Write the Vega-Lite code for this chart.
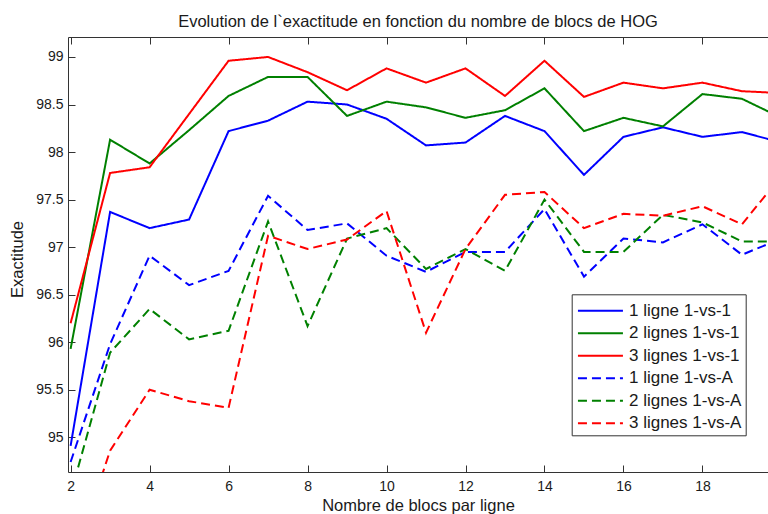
{
  "$schema": "https://vega.github.io/schema/vega-lite/v6.json",
  "width": 700,
  "height": 435,
  "autosize": {"type": "none"},
  "padding": {"left": 68, "top": 37, "right": 0, "bottom": 42},
  "background": "white",
  "title": {"text": "Evolution de l`exactitude en fonction du nombre de blocs de HOG", "font": "Liberation Sans", "fontSize": 16.5, "fontWeight": "normal", "color": "#1a1a1a", "offset": 6, "anchor": "middle"},
  "config": {
    "view": {"stroke": "#333333", "strokeWidth": 1},
    "axis": {"grid": false, "domain": false, "labelFont": "Liberation Sans", "labelFontSize": 14, "labelColor": "#1a1a1a", "titleFont": "Liberation Sans", "titleFontSize": 16.5, "titleFontWeight": "normal", "titleColor": "#1a1a1a", "tickColor": "#333333", "tickSize": -7}
  },
  "data": {"values": [
    {"series": "1 ligne 1-vs-1", "x": 2, "y": 94.91}, {"series": "1 ligne 1-vs-1", "x": 3, "y": 97.37}, {"series": "1 ligne 1-vs-1", "x": 4, "y": 97.20}, {"series": "1 ligne 1-vs-1", "x": 5, "y": 97.29}, {"series": "1 ligne 1-vs-1", "x": 6, "y": 98.22}, {"series": "1 ligne 1-vs-1", "x": 7, "y": 98.33}, {"series": "1 ligne 1-vs-1", "x": 8, "y": 98.53}, {"series": "1 ligne 1-vs-1", "x": 9, "y": 98.50}, {"series": "1 ligne 1-vs-1", "x": 10, "y": 98.35}, {"series": "1 ligne 1-vs-1", "x": 11, "y": 98.07}, {"series": "1 ligne 1-vs-1", "x": 12, "y": 98.10}, {"series": "1 ligne 1-vs-1", "x": 13, "y": 98.38}, {"series": "1 ligne 1-vs-1", "x": 14, "y": 98.22}, {"series": "1 ligne 1-vs-1", "x": 15, "y": 97.76}, {"series": "1 ligne 1-vs-1", "x": 16, "y": 98.16}, {"series": "1 ligne 1-vs-1", "x": 17, "y": 98.26}, {"series": "1 ligne 1-vs-1", "x": 18, "y": 98.16}, {"series": "1 ligne 1-vs-1", "x": 19, "y": 98.21}, {"series": "1 ligne 1-vs-1", "x": 20, "y": 98.10},
    {"series": "2 lignes 1-vs-1", "x": 2, "y": 95.93}, {"series": "2 lignes 1-vs-1", "x": 3, "y": 98.13}, {"series": "2 lignes 1-vs-1", "x": 4, "y": 97.88}, {"series": "2 lignes 1-vs-1", "x": 5, "y": 98.23}, {"series": "2 lignes 1-vs-1", "x": 6, "y": 98.59}, {"series": "2 lignes 1-vs-1", "x": 7, "y": 98.79}, {"series": "2 lignes 1-vs-1", "x": 8, "y": 98.79}, {"series": "2 lignes 1-vs-1", "x": 9, "y": 98.38}, {"series": "2 lignes 1-vs-1", "x": 10, "y": 98.53}, {"series": "2 lignes 1-vs-1", "x": 11, "y": 98.47}, {"series": "2 lignes 1-vs-1", "x": 12, "y": 98.36}, {"series": "2 lignes 1-vs-1", "x": 13, "y": 98.44}, {"series": "2 lignes 1-vs-1", "x": 14, "y": 98.67}, {"series": "2 lignes 1-vs-1", "x": 15, "y": 98.22}, {"series": "2 lignes 1-vs-1", "x": 16, "y": 98.36}, {"series": "2 lignes 1-vs-1", "x": 17, "y": 98.27}, {"series": "2 lignes 1-vs-1", "x": 18, "y": 98.61}, {"series": "2 lignes 1-vs-1", "x": 19, "y": 98.56}, {"series": "2 lignes 1-vs-1", "x": 20, "y": 98.36},
    {"series": "3 lignes 1-vs-1", "x": 2, "y": 96.20}, {"series": "3 lignes 1-vs-1", "x": 3, "y": 97.78}, {"series": "3 lignes 1-vs-1", "x": 4, "y": 97.84}, {"series": "3 lignes 1-vs-1", "x": 5, "y": 98.40}, {"series": "3 lignes 1-vs-1", "x": 6, "y": 98.96}, {"series": "3 lignes 1-vs-1", "x": 7, "y": 99.00}, {"series": "3 lignes 1-vs-1", "x": 8, "y": 98.84}, {"series": "3 lignes 1-vs-1", "x": 9, "y": 98.65}, {"series": "3 lignes 1-vs-1", "x": 10, "y": 98.88}, {"series": "3 lignes 1-vs-1", "x": 11, "y": 98.73}, {"series": "3 lignes 1-vs-1", "x": 12, "y": 98.88}, {"series": "3 lignes 1-vs-1", "x": 13, "y": 98.59}, {"series": "3 lignes 1-vs-1", "x": 14, "y": 98.96}, {"series": "3 lignes 1-vs-1", "x": 15, "y": 98.58}, {"series": "3 lignes 1-vs-1", "x": 16, "y": 98.73}, {"series": "3 lignes 1-vs-1", "x": 17, "y": 98.67}, {"series": "3 lignes 1-vs-1", "x": 18, "y": 98.73}, {"series": "3 lignes 1-vs-1", "x": 19, "y": 98.64}, {"series": "3 lignes 1-vs-1", "x": 20, "y": 98.62},
    {"series": "1 ligne 1-vs-A", "x": 2, "y": 94.74}, {"series": "1 ligne 1-vs-A", "x": 3, "y": 95.98}, {"series": "1 ligne 1-vs-A", "x": 4, "y": 96.91}, {"series": "1 ligne 1-vs-A", "x": 5, "y": 96.60}, {"series": "1 ligne 1-vs-A", "x": 6, "y": 96.75}, {"series": "1 ligne 1-vs-A", "x": 7, "y": 97.54}, {"series": "1 ligne 1-vs-A", "x": 8, "y": 97.18}, {"series": "1 ligne 1-vs-A", "x": 9, "y": 97.25}, {"series": "1 ligne 1-vs-A", "x": 10, "y": 96.91}, {"series": "1 ligne 1-vs-A", "x": 11, "y": 96.74}, {"series": "1 ligne 1-vs-A", "x": 12, "y": 96.95}, {"series": "1 ligne 1-vs-A", "x": 13, "y": 96.95}, {"series": "1 ligne 1-vs-A", "x": 14, "y": 97.40}, {"series": "1 ligne 1-vs-A", "x": 15, "y": 96.69}, {"series": "1 ligne 1-vs-A", "x": 16, "y": 97.09}, {"series": "1 ligne 1-vs-A", "x": 17, "y": 97.05}, {"series": "1 ligne 1-vs-A", "x": 18, "y": 97.24}, {"series": "1 ligne 1-vs-A", "x": 19, "y": 96.92}, {"series": "1 ligne 1-vs-A", "x": 20, "y": 97.09},
    {"series": "2 lignes 1-vs-A", "x": 2, "y": 94.40}, {"series": "2 lignes 1-vs-A", "x": 3, "y": 95.89}, {"series": "2 lignes 1-vs-A", "x": 4, "y": 96.35}, {"series": "2 lignes 1-vs-A", "x": 5, "y": 96.03}, {"series": "2 lignes 1-vs-A", "x": 6, "y": 96.12}, {"series": "2 lignes 1-vs-A", "x": 7, "y": 97.27}, {"series": "2 lignes 1-vs-A", "x": 8, "y": 96.17}, {"series": "2 lignes 1-vs-A", "x": 9, "y": 97.09}, {"series": "2 lignes 1-vs-A", "x": 10, "y": 97.20}, {"series": "2 lignes 1-vs-A", "x": 11, "y": 96.77}, {"series": "2 lignes 1-vs-A", "x": 12, "y": 96.98}, {"series": "2 lignes 1-vs-A", "x": 13, "y": 96.75}, {"series": "2 lignes 1-vs-A", "x": 14, "y": 97.50}, {"series": "2 lignes 1-vs-A", "x": 15, "y": 96.95}, {"series": "2 lignes 1-vs-A", "x": 16, "y": 96.95}, {"series": "2 lignes 1-vs-A", "x": 17, "y": 97.34}, {"series": "2 lignes 1-vs-A", "x": 18, "y": 97.26}, {"series": "2 lignes 1-vs-A", "x": 19, "y": 97.06}, {"series": "2 lignes 1-vs-A", "x": 20, "y": 97.06},
    {"series": "3 lignes 1-vs-A", "x": 2, "y": 93.60}, {"series": "3 lignes 1-vs-A", "x": 3, "y": 94.86}, {"series": "3 lignes 1-vs-A", "x": 4, "y": 95.50}, {"series": "3 lignes 1-vs-A", "x": 5, "y": 95.38}, {"series": "3 lignes 1-vs-A", "x": 6, "y": 95.31}, {"series": "3 lignes 1-vs-A", "x": 7, "y": 97.12}, {"series": "3 lignes 1-vs-A", "x": 8, "y": 96.98}, {"series": "3 lignes 1-vs-A", "x": 9, "y": 97.08}, {"series": "3 lignes 1-vs-A", "x": 10, "y": 97.38}, {"series": "3 lignes 1-vs-A", "x": 11, "y": 96.10}, {"series": "3 lignes 1-vs-A", "x": 12, "y": 96.98}, {"series": "3 lignes 1-vs-A", "x": 13, "y": 97.55}, {"series": "3 lignes 1-vs-A", "x": 14, "y": 97.58}, {"series": "3 lignes 1-vs-A", "x": 15, "y": 97.20}, {"series": "3 lignes 1-vs-A", "x": 16, "y": 97.35}, {"series": "3 lignes 1-vs-A", "x": 17, "y": 97.33}, {"series": "3 lignes 1-vs-A", "x": 18, "y": 97.43}, {"series": "3 lignes 1-vs-A", "x": 19, "y": 97.24}, {"series": "3 lignes 1-vs-A", "x": 20, "y": 97.75}
  ]},
  "resolve": {"axis": {"x": "independent"}},
  "layer": [
    {
      "mark": {"type": "line", "clip": true, "strokeWidth": 2},
      "encoding": {
        "x": {"field": "x", "type": "quantitative", "scale": {"domain": [1.934, 19.66], "nice": false, "zero": false}, "axis": {"values": [2, 4, 6, 8, 10, 12, 14, 16, 18], "title": "Nombre de blocs par ligne", "labelPadding": 14, "titlePadding": 4}},
        "y": {"field": "y", "type": "quantitative", "scale": {"domain": [94.635, 99.21], "nice": false, "zero": false}, "axis": {"values": [95, 95.5, 96, 96.5, 97, 97.5, 98, 98.5, 99], "format": ".1~f", "title": "Exactitude", "labelPadding": 12, "titlePadding": 10, "titleY": 222}},
        "color": {"field": "series", "type": "nominal", "sort": ["1 ligne 1-vs-1", "2 lignes 1-vs-1", "3 lignes 1-vs-1", "1 ligne 1-vs-A", "2 lignes 1-vs-A", "3 lignes 1-vs-A"], "scale": {"domain": ["1 ligne 1-vs-1", "2 lignes 1-vs-1", "3 lignes 1-vs-1", "1 ligne 1-vs-A", "2 lignes 1-vs-A", "3 lignes 1-vs-A"], "range": ["#0000ff", "#008000", "#ff0000", "#0000ff", "#008000", "#ff0000"]},
          "legend": {"title": null, "orient": "none", "legendX": 503.7, "legendY": 257.3, "strokeColor": "#333333", "fillColor": "white", "padding": 4, "symbolType": "M-2,0H2", "symbolSize": 506, "symbolStrokeWidth": 2, "labelFont": "Liberation Sans", "labelFontSize": 17, "labelColor": "#1a1a1a", "labelOffset": 16, "rowPadding": 1.5, "symbolOffset": 12.25, "labelLimit": 300}},
        "strokeDash": {"field": "series", "type": "nominal", "sort": ["1 ligne 1-vs-1", "2 lignes 1-vs-1", "3 lignes 1-vs-1", "1 ligne 1-vs-A", "2 lignes 1-vs-A", "3 lignes 1-vs-A"], "scale": {"domain": ["1 ligne 1-vs-1", "2 lignes 1-vs-1", "3 lignes 1-vs-1", "1 ligne 1-vs-A", "2 lignes 1-vs-A", "3 lignes 1-vs-A"], "range": [[1, 0], [1, 0], [1, 0], [9, 5], [9, 5], [9, 5]]}}
      }
    },
    {
      "mark": {"type": "point", "opacity": 0, "clip": true},
      "encoding": {
        "x": {"field": "x", "type": "quantitative", "axis": {"orient": "top", "values": [2, 4, 6, 8, 10, 12, 14, 16, 18], "labels": false, "title": null}},
        "y": {"field": "y", "type": "quantitative"}
      }
    }
  ]
}
